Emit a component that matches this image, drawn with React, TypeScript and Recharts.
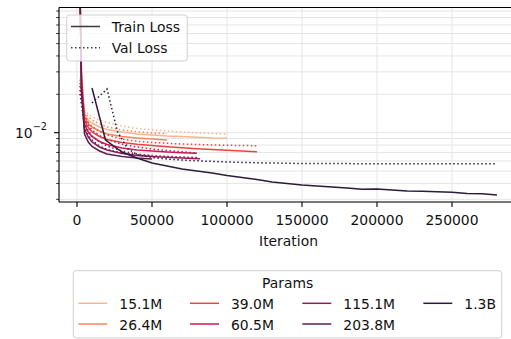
import React from "react";
import { LineChart, Line, XAxis, YAxis, CartesianGrid } from "recharts";

const FONT = "'DejaVu Sans', 'Liberation Sans', sans-serif";

// Model sizes and their palette (light = small, dark = large)
const modelNames = ["15.1M", "26.4M", "39.0M", "60.5M", "115.1M", "203.8M", "1.3B"];
const modelColors = ["#f6b58f", "#f4875e", "#e8453f", "#cb1b4f", "#921c5b", "#5f1e51", "#2e1a3c"];

// 15.1M
const trainIters15 = [1500, 3000, 5000, 7500, 10000, 15000, 20000, 30000, 40000, 50000, 60000, 70000, 80000, 90000, 100000];
const trainLoss15 = [0.3, 0.02993, 0.01402, 0.01258, 0.01191, 0.01108, 0.0106, 0.01013, 0.009768, 0.009593, 0.009421, 0.009337, 0.009203, 0.009088, 0.00904];
const valIters15 = [2000, 5000, 7500, 10000, 15000, 20000, 30000, 40000, 50000, 60000, 70000, 80000, 90000, 100000];
const valLoss15 = [0.02685, 0.01507, 0.01402, 0.0134, 0.01258, 0.01202, 0.01129, 0.01079, 0.0105, 0.01031, 0.01013, 0.009982, 0.009856, 0.009768];

// 26.4M
const trainIters26 = [1500, 3000, 5000, 7500, 10000, 15000, 20000, 30000, 40000, 50000, 60000];
const trainLoss26 = [0.3, 0.02784, 0.01328, 0.01181, 0.01108, 0.01031, 0.009768, 0.009337, 0.009088, 0.008925, 0.008764];
const valIters26 = [2000, 5000, 7500, 10000, 15000, 20000, 30000, 40000, 50000, 60000];
const valLoss26 = [0.0259, 0.01454, 0.01328, 0.01258, 0.0117, 0.01108, 0.0105, 0.01018, 0.009945, 0.009856];

// 39.0M
const trainIters39 = [1500, 3000, 5000, 7500, 10000, 15000, 20000, 30000, 40000, 50000, 60000, 70000, 80000, 90000, 100000, 110000, 120000];
const trainLoss39 = [0.3, 0.0259, 0.01258, 0.01098, 0.01013, 0.009337, 0.008845, 0.008378, 0.00811, 0.007937, 0.007768, 0.007627, 0.007491, 0.007383, 0.007277, 0.007185, 0.007095];
const valIters39 = [2000, 5000, 7500, 10000, 15000, 20000, 30000, 40000, 50000, 60000, 70000, 80000, 90000, 100000, 110000, 120000];
const valLoss39 = [0.02454, 0.01377, 0.01213, 0.01118, 0.01022, 0.009593, 0.008925, 0.00856, 0.008378, 0.008258, 0.008154, 0.008082, 0.008008, 0.007966, 0.007937, 0.007895];

// 60.5M
const trainIters60 = [1500, 3000, 5000, 7500, 10000, 15000, 20000, 30000, 40000, 50000, 60000, 70000, 80000];
const trainLoss60 = [0.3, 0.0241, 0.0117, 0.01013, 0.009337, 0.00853, 0.008082, 0.007586, 0.007316, 0.007185, 0.007056, 0.006967, 0.006892];
const valIters60 = [2000, 5000, 7500, 10000, 15000, 20000, 30000, 40000, 50000, 60000, 70000, 80000];
const valLoss60 = [0.02325, 0.01304, 0.01149, 0.0105, 0.009506, 0.008845, 0.00811, 0.007726, 0.007451, 0.00725, 0.007095, 0.006929];

// 115.1M
const trainIters115 = [1500, 3000, 5000, 7500, 10000, 15000, 20000, 30000, 40000, 50000, 60000, 70000, 82000];
const trainLoss115 = [0.3, 0.02242, 0.01069, 0.009253, 0.008454, 0.007726, 0.007316, 0.006868, 0.006624, 0.006505, 0.006412, 0.006331, 0.006252];
const valIters115 = [2000, 5000, 7500, 10000, 15000, 20000, 30000, 40000, 50000, 60000, 70000, 80000];
const valLoss115 = [0.02162, 0.01191, 0.01041, 0.009421, 0.008454, 0.007866, 0.007185, 0.006806, 0.006624, 0.006529, 0.006447, 0.006389];

// 203.8M
const trainIters203 = [1500, 3000, 5000, 7500, 10000, 15000, 20000, 30000, 40000, 50000];
const trainLoss203 = [0.3, 0.02086, 0.009768, 0.008454, 0.007796, 0.007185, 0.006806, 0.006505, 0.006331, 0.006217];
const valIters203 = [2000, 5000, 7500, 10000, 15000, 20000, 30000, 40000, 50000];
const valLoss203 = [0.02012, 0.01108, 0.009593, 0.008764, 0.007866, 0.007383, 0.006929, 0.006684, 0.006565];

// 1.3B
const trainIters13b = [10000, 19000, 30000, 40000, 50000, 60000, 70000, 80000, 90000, 100000, 110000, 120000, 130000, 140000, 150000, 160000, 170000, 180000, 190000, 200000, 210000, 220000, 230000, 240000, 250000, 260000, 270000, 280000];
const trainLoss13b = [0.02242, 0.008764, 0.007056, 0.006331, 0.005785, 0.00548, 0.005192, 0.005008, 0.00483, 0.004616, 0.004453, 0.004295, 0.004106, 0.003996, 0.003889, 0.003819, 0.003751, 0.003683, 0.003598, 0.003618, 0.003553, 0.003489, 0.00347, 0.003439, 0.003408, 0.003335, 0.003323, 0.003246];
const valIters13b = [10000, 20000, 27000, 34000, 40000, 50000, 60000, 70000, 80000, 100000, 120000, 150000, 200000, 225000, 250000, 280000];
const valLoss13b = [0.0171, 0.02201, 0.01013, 0.007451, 0.006745, 0.006389, 0.006217, 0.006107, 0.006019, 0.00589, 0.005806, 0.005733, 0.005712, 0.005705, 0.005712, 0.005708];

const trainIters = [trainIters15, trainIters26, trainIters39, trainIters60, trainIters115, trainIters203, trainIters13b];
const trainLoss = [trainLoss15, trainLoss26, trainLoss39, trainLoss60, trainLoss115, trainLoss203, trainLoss13b];
const valIters = [valIters15, valIters26, valIters39, valIters60, valIters115, valIters203, valIters13b];
const valLoss = [valLoss15, valLoss26, valLoss39, valLoss60, valLoss115, valLoss203, valLoss13b];

const xTicks = [0, 50000, 100000, 150000, 200000, 250000];
const yTicks = [
  0.003, 0.004, 0.005, 0.006, 0.007, 0.008, 0.009, 0.01,
  0.02, 0.03, 0.04, 0.05, 0.06, 0.07, 0.08, 0.09,
];
const xDomain = [-12000, 294000];
const yDomain = [0.00286, 0.09594];

const zip = (its: number[], vals: number[]) => its.map((it, i) => ({ it, loss: vals[i] }));

const PLOT_LEFT = 59;
const PLOT_BOTTOM = 202;
const TEXT = "#111";

function YTick(props: any) {
  const { y, payload } = props;
  const major = Math.abs(payload.value - 0.01) < 1e-9;
  return (
    <g>
      <line
        x1={PLOT_LEFT - (major ? 4.9 : 2.8)}
        x2={PLOT_LEFT}
        y1={y}
        y2={y}
        stroke="#000"
        strokeWidth={major ? 1.1 : 0.8}
      />
      {major && (
        <text x={47} y={y + 5} textAnchor="end" fontFamily={FONT} fontSize={13.9} fill={TEXT}>
          10<tspan dy={-7.5} fontSize={9.7}>−2</tspan>
        </text>
      )}
    </g>
  );
}

function XTick(props: any) {
  const { x, payload } = props;
  return (
    <g>
      <line x1={x} x2={x} y1={PLOT_BOTTOM} y2={PLOT_BOTTOM + 4.9} stroke="#000" strokeWidth={1.1} />
      <text x={x} y={225} textAnchor="middle" fontFamily={FONT} fontSize={13.9} fill={TEXT}>
        {payload.value}
      </text>
    </g>
  );
}

export default function App() {
  const lines: React.ReactNode[] = [];
  modelNames.forEach((name, i) => {
    lines.push(
      <Line
        key={`t-${name}`}
        data={zip(trainIters[i], trainLoss[i])}
        dataKey="loss"
        type="linear"
        stroke={modelColors[i]}
        strokeWidth={1.5}
        dot={false}
        activeDot={false}
        isAnimationActive={false}
      />
    );
    lines.push(
      <Line
        key={`v-${name}`}
        data={zip(valIters[i], valLoss[i])}
        dataKey="loss"
        type="linear"
        stroke={modelColors[i]}
        strokeWidth={1.5}
        strokeDasharray="1.5 2.5"
        dot={false}
        activeDot={false}
        isAnimationActive={false}
      />
    );
  });

  const colX = [78.3, 190, 302.3, 423.3];
  const rowY = [303.3, 324];

  return (
    <div style={{ position: "absolute", left: 0, top: 0, width: 511, height: 339, overflow: "hidden", background: "#fff" }}>
      <LineChart width={530} height={339} margin={{ top: 7.5, right: 12, bottom: 107, left: 0 }}>
        <CartesianGrid stroke="#e4e4e4" strokeWidth={1} />
        <XAxis
          dataKey="it"
          type="number"
          domain={xDomain}
          ticks={xTicks}
          interval={0}
          allowDataOverflow
          tick={<XTick />}
          tickLine={false}
          axisLine={{ stroke: "#000", strokeWidth: 1.1 }}
          height={30}
        />
        <YAxis
          type="number"
          scale="log"
          domain={yDomain}
          ticks={yTicks}
          interval={0}
          allowDataOverflow
          tick={<YTick />}
          tickLine={false}
          axisLine={{ stroke: "#000", strokeWidth: 1.1 }}
          width={59}
        />
        {lines}
      </LineChart>
      <svg width={511} height={339} style={{ position: "absolute", left: 0, top: 0, pointerEvents: "none" }}>
        {/* top spine */}
        <line x1={PLOT_LEFT} x2={511} y1={7.5} y2={7.5} stroke="#000" strokeWidth={1.1} />
        {/* axis title */}
        <text x={288.5} y={246} textAnchor="middle" fontFamily={FONT} fontSize={13.9} fill={TEXT}>
          Iteration
        </text>
        {/* line-style legend */}
        <rect x={66.7} y={15} width={120.6} height={46} rx={3} fill="#fff" fillOpacity={0.8} stroke="#d0d0d0" strokeWidth={1} />
        <line x1={71} x2={100} y1={26.5} y2={26.5} stroke="#3a3a3a" strokeWidth={1.5} />
        <text x={111.7} y={31.8} fontFamily={FONT} fontSize={13.9} fill={TEXT}>Train Loss</text>
        <line x1={71} x2={100} y1={47.7} y2={47.7} stroke="#3a3a3a" strokeWidth={1.5} strokeDasharray="1.5 2.5" />
        <text x={111.7} y={53} fontFamily={FONT} fontSize={13.9} fill={TEXT}>Val Loss</text>
        {/* model-size legend */}
        <rect x={73.3} y={270.7} width={428.4} height={67.2} rx={3} fill="#fff" fillOpacity={0.8} stroke="#d0d0d0" strokeWidth={1} />
        <text x={287.7} y={288} textAnchor="middle" fontFamily={FONT} fontSize={13.9} fill={TEXT}>Params</text>
        {modelNames.map((name, i) => {
          const col = Math.floor(i / 2);
          const row = i % 2;
          const x0 = colX[col];
          const y0 = rowY[row];
          return (
            <g key={name}>
              <line x1={x0} x2={x0 + 29} y1={y0} y2={y0} stroke={modelColors[i]} strokeWidth={1.5} />
              <text x={x0 + 41} y={y0 + 5.5} fontFamily={FONT} fontSize={13.9} fill={TEXT}>{name}</text>
            </g>
          );
        })}
      </svg>
    </div>
  );
}
